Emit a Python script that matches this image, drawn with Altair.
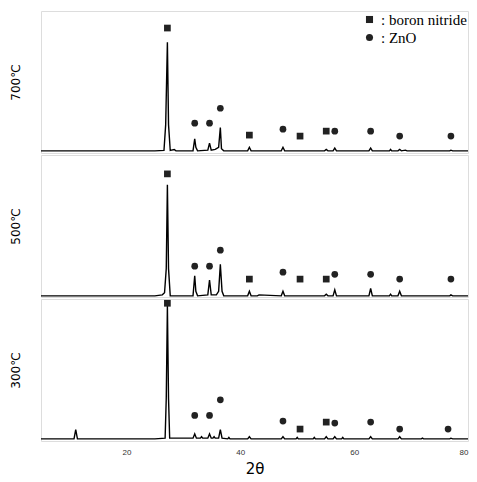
import altair as alt
import pandas as pd

# ---- data: 2-theta positions and relative intensities ----
X_700 = [5, 10, 15, 20, 25, 26.6, 26.9, 27.2, 27.4, 27.7, 28.4, 28.7, 31.7, 32.0, 32.2, 32.5,
         34.3, 34.6, 34.9, 35.6, 36.2, 36.5, 36.7, 37.1, 41.3, 41.6, 41.9, 47.2, 47.5, 47.8,
         54.8, 55.1, 55.4, 56.3, 56.6, 56.9, 62.6, 62.9, 63.2, 66.2, 66.4, 66.6, 67.7, 68.0,
         68.3, 69.0, 69.3, 76.8, 77.0, 77.3, 80]
Y_700 = [1.5, 1.5, 1.5, 1.5, 1.5, 1.8, 20, 78, 20, 1.8, 2.5, 1.5, 1.5, 10, 4, 1.5,
         2, 7, 2, 2.5, 4, 18, 3, 1.5, 1.5, 4, 1.5, 1.5, 4, 1.5,
         1.5, 2.5, 1.5, 1.5, 3.5, 1.5, 1.5, 3.5, 1.5, 1.5, 2.5, 1.5, 1.5, 2.5,
         1.5, 2, 1.5, 1.5, 2, 1.5, 1.5]

X_500 = [5, 10, 15, 20, 25, 26.3, 26.7, 27.0, 27.2, 27.4, 27.7, 31.7, 32.0, 32.2, 32.5,
         34.3, 34.6, 34.9, 35.8, 36.2, 36.5, 36.8, 37.1, 41.3, 41.6, 41.9, 43.0, 43.3, 47.2,
         47.5, 47.8, 54.8, 55.1, 55.4, 56.3, 56.6, 56.9, 62.6, 62.9, 63.2, 66.2, 66.4, 66.6,
         67.7, 68.0, 68.3, 76.8, 77.0, 77.3, 80]
Y_500 = [0.8, 0.8, 0.8, 0.8, 0.8, 1.5, 3, 20, 79, 20, 0.8, 0.8, 15, 4, 0.8,
         1.5, 12, 1.5, 1.5, 4, 23, 4, 0.8, 0.8, 4, 0.8, 0.8, 1.5, 0.8,
         4, 0.8, 0.8, 2, 0.8, 0.8, 5, 0.8, 0.8, 6, 0.8, 0.8, 2, 0.8,
         0.8, 4, 0.8, 0.8, 1.5, 0.8, 0.8]

X_300 = [5, 10.8, 11.1, 11.4, 20, 25, 26.8, 27.0, 27.2, 27.4, 27.6, 30.0, 31.7, 32.0, 32.3,
         33.0, 33.2, 33.4, 34.3, 34.6, 34.9, 35.2, 35.4, 35.6, 36.2, 36.5, 36.8, 37.8, 38.0,
         38.2, 41.3, 41.6, 41.9, 47.2, 47.5, 47.8, 49.8, 50.0, 50.2, 52.8, 53.0, 53.2, 54.8,
         55.1, 55.4, 56.3, 56.6, 56.9, 57.8, 58.0, 58.2, 62.6, 62.9, 63.2, 67.7, 68.0, 68.3,
         71.8, 72.0, 72.2, 76.8, 77.0, 77.3, 80]
Y_300 = [1.5, 1.5, 8, 1.5, 1.5, 1.5, 2, 30, 95, 30, 2, 2, 2, 5, 2,
         2, 3, 2, 2, 5, 2, 2, 3, 2, 2, 8, 2, 1.5, 2.5,
         1.5, 1.5, 3, 1.5, 1.5, 3, 1.5, 1.5, 2.5, 1.5, 1.5, 2.5, 1.5, 1.5,
         3, 1.5, 1.5, 3, 1.5, 1.5, 2.5, 1.5, 1.5, 3, 1.5, 1.5, 3, 1.5,
         1.5, 2, 1.5, 1.5, 2, 1.5, 1.5]

BN_X_700 = [27.2, 41.6, 50.5, 55.1]
BN_Y_700 = [88, 12.6, 11.9, 15.4]
ZN_X_700 = [32.0, 34.6, 36.5, 47.5, 56.6, 62.9, 68.0, 77.0]
ZN_Y_700 = [21, 21, 31.5, 16.8, 15.4, 15.4, 11.9, 11.9]

BN_X_500 = [27.2, 41.6, 50.5, 55.1]
BN_Y_500 = [86.7, 12.6, 12.6, 12.6]
ZN_X_500 = [32.0, 34.6, 36.5, 47.5, 56.6, 62.9, 68.0, 77.0]
ZN_Y_500 = [21.7, 21.7, 33, 17.5, 16, 16, 12.6, 12.6]

BN_X_300 = [27.2, 50.5, 55.1]
BN_Y_300 = [97, 8.4, 13.3]
ZN_X_300 = [32.0, 34.6, 36.5, 47.5, 56.6, 62.9, 68.0, 76.5]
ZN_Y_300 = [18, 18, 29, 14, 12.6, 13.3, 8.4, 8.4]

LABELS = ["700℃", "500℃", "300℃"]
PHASES = ["boron nitride", "ZnO"]
X_TICKS = [20, 40, 60, 80]

xscale = alt.Scale(domain=[5, 80], nice=False, zero=False)
yscale = alt.Scale(domain=[0, 100], nice=False)


def panel(label, xs, ys, bnx, bny, znx, zny, show_x, show_legend):
    line_df = pd.DataFrame({"x": xs, "y": ys})
    mk_df = pd.DataFrame({
        "x": bnx + znx,
        "y": bny + zny,
        "phase": [PHASES[0]] * len(bnx) + [PHASES[1]] * len(znx),
    })
    if show_x:
        xaxis = alt.Axis(values=X_TICKS, title="2θ", ticks=False, domain=False, grid=False,
                         labelFontSize=8, labelColor="#333", labelPadding=7, labelFlush=True,
                         titleFont="DejaVu Sans", titleFontSize=15, titleFontWeight="normal",
                         titlePadding=5, titleColor="black")
    else:
        xaxis = None
    yaxis = alt.Axis(title=label, labels=False, ticks=False, domain=False, grid=False,
                     titleFont="DejaVu Sans", titleFontSize=12, titleFontWeight="normal",
                     titlePadding=19, titleColor="black")
    line = alt.Chart(line_df).mark_line(color="black", strokeWidth=1.4, clip=True).encode(
        x=alt.X("x:Q", scale=xscale, axis=xaxis),
        y=alt.Y("y:Q", scale=yscale, axis=yaxis),
        order=alt.Order("x:Q"),
    )
    if show_legend:
        legend = alt.Legend(orient="top-right", title=None, labelFont="Liberation Serif",
                            labelFontSize=15, labelColor="black", symbolSize=50,
                            symbolFillColor="#222", symbolStrokeColor="#222",
                            labelExpr="': ' + datum.label", offset=1, rowPadding=2)
    else:
        legend = None
    pts = alt.Chart(mk_df).mark_point(filled=True, color="#222", opacity=1, size=45).encode(
        x=alt.X("x:Q", scale=xscale),
        y=alt.Y("y:Q", scale=yscale),
        shape=alt.Shape("phase:N", scale=alt.Scale(domain=PHASES, range=["square", "circle"]),
                        legend=legend),
    )
    return alt.layer(line, pts).properties(width=427, height=142)


p1 = panel(LABELS[0], X_700, Y_700, BN_X_700, BN_Y_700, ZN_X_700, ZN_Y_700, False, True)
p2 = panel(LABELS[1], X_500, Y_500, BN_X_500, BN_Y_500, ZN_X_500, ZN_Y_500, False, False)
p3 = panel(LABELS[2], X_300, Y_300, BN_X_300, BN_Y_300, ZN_X_300, ZN_Y_300, True, False)

chart = alt.vconcat(p1, p2, p3, spacing=0).resolve_scale(
    shape="independent"
).resolve_legend(shape="independent").properties(
    padding={"left": 0, "top": 2, "right": 0, "bottom": 0}
).configure_view(stroke="black", strokeWidth=1.5).configure(background="white")

chart.save("out.html", embed_options={"renderer": "svg", "actions": False})
